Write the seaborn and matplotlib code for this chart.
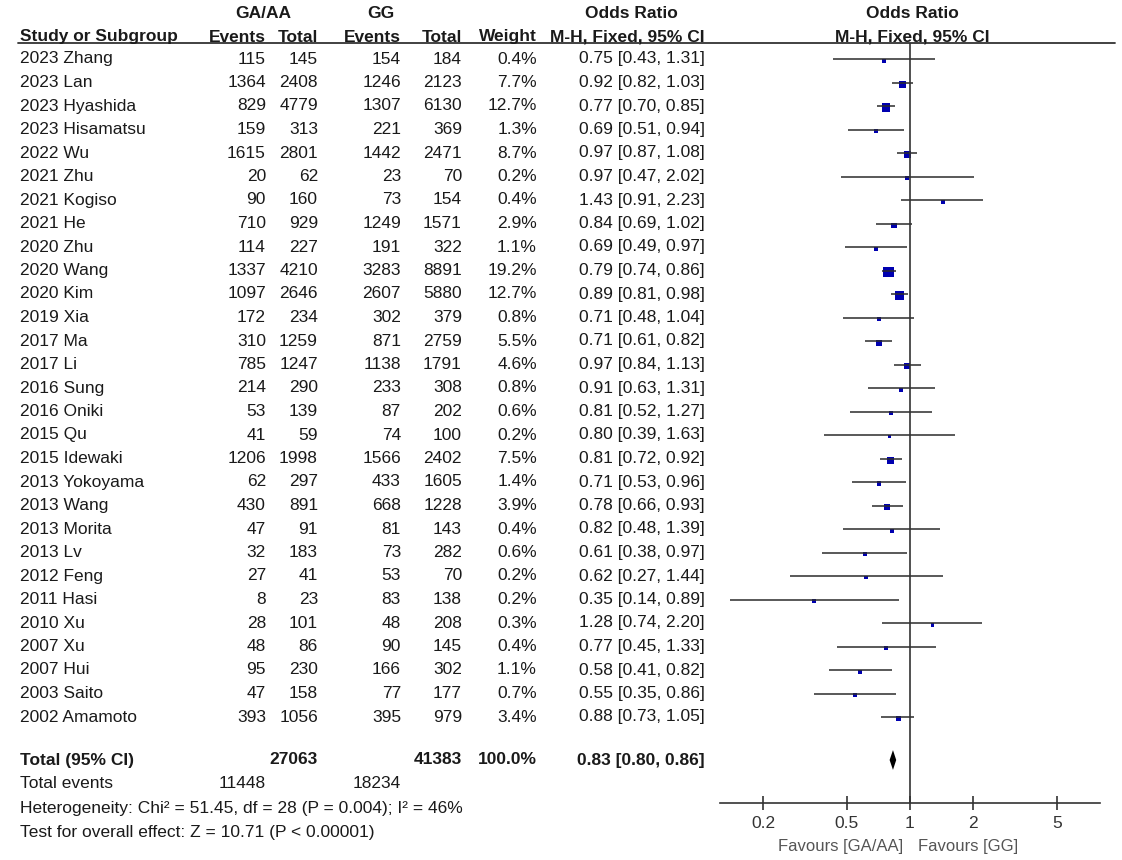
import numpy as np
import pandas as pd
import matplotlib
matplotlib.use("Agg")
import matplotlib.pyplot as plt
import seaborn as sns

# study data
studies = ["2023 Zhang", "2023 Lan", "2023 Hyashida", "2023 Hisamatsu", "2022 Wu",
           "2021 Zhu", "2021 Kogiso", "2021 He", "2020 Zhu", "2020 Wang", "2020 Kim",
           "2019 Xia", "2017 Ma", "2017 Li", "2016 Sung", "2016 Oniki", "2015 Qu",
           "2015 Idewaki", "2013 Yokoyama", "2013 Wang", "2013 Morita", "2013 Lv",
           "2012 Feng", "2011 Hasi", "2010 Xu", "2007 Xu", "2007 Hui", "2003 Saito",
           "2002 Amamoto"]
ga_events = [115, 1364, 829, 159, 1615, 20, 90, 710, 114, 1337, 1097, 172, 310, 785,
             214, 53, 41, 1206, 62, 430, 47, 32, 27, 8, 28, 48, 95, 47, 393]
ga_total = [145, 2408, 4779, 313, 2801, 62, 160, 929, 227, 4210, 2646, 234, 1259, 1247,
            290, 139, 59, 1998, 297, 891, 91, 183, 41, 23, 101, 86, 230, 158, 1056]
gg_events = [154, 1246, 1307, 221, 1442, 23, 73, 1249, 191, 3283, 2607, 302, 871, 1138,
             233, 87, 74, 1566, 433, 668, 81, 73, 53, 83, 48, 90, 166, 77, 395]
gg_total = [184, 2123, 6130, 369, 2471, 70, 154, 1571, 322, 8891, 5880, 379, 2759, 1791,
            308, 202, 100, 2402, 1605, 1228, 143, 282, 70, 138, 208, 145, 302, 177, 979]
weight = [0.4, 7.7, 12.7, 1.3, 8.7, 0.2, 0.4, 2.9, 1.1, 19.2, 12.7, 0.8, 5.5, 4.6,
          0.8, 0.6, 0.2, 7.5, 1.4, 3.9, 0.4, 0.6, 0.2, 0.2, 0.3, 0.4, 1.1, 0.7, 3.4]
odds = [0.75, 0.92, 0.77, 0.69, 0.97, 0.97, 1.43, 0.84, 0.69, 0.79, 0.89, 0.71, 0.71,
        0.97, 0.91, 0.81, 0.80, 0.81, 0.71, 0.78, 0.82, 0.61, 0.62, 0.35, 1.28, 0.77,
        0.58, 0.55, 0.88]
ci_lo = [0.43, 0.82, 0.70, 0.51, 0.87, 0.47, 0.91, 0.69, 0.49, 0.74, 0.81, 0.48, 0.61,
         0.84, 0.63, 0.52, 0.39, 0.72, 0.53, 0.66, 0.48, 0.38, 0.27, 0.14, 0.74, 0.45,
         0.41, 0.35, 0.73]
ci_hi = [1.31, 1.03, 0.85, 0.94, 1.08, 2.02, 2.23, 1.02, 0.97, 0.86, 0.98, 1.04, 0.82,
         1.13, 1.31, 1.27, 1.63, 0.92, 0.96, 0.93, 1.39, 0.97, 1.44, 0.89, 2.20, 1.33,
         0.82, 0.86, 1.05]

total_ga = 27063
total_gg = 41383
total_weight = 100.0
total_ev_ga = 11448
total_ev_gg = 18234
total_or, total_lo, total_hi = 0.83, 0.80, 0.86
het_text = "Heterogeneity: Chi² = 51.45, df = 28 (P = 0.004); I² = 46%"
test_text = "Test for overall effect: Z = 10.71 (P < 0.00001)"
xticks = [0.2, 0.5, 1, 2, 5]

sns.set_style("white")
plt.rcParams['font.family'] = ['Liberation Sans', 'DejaVu Sans']

W, H = 1122, 860
row0, step = 59, 23.5   # pixel y of first row, row spacing


def prow(p):
    # pixel y -> row units
    return (p - row0) / step


fig = plt.figure(figsize=(W / 100, H / 100), dpi=100)
ax_t = fig.add_axes([0, 0, 1, 1])
ax_t.set_xlim(0, W)
ax_t.set_ylim(prow(H), prow(0))
ax_t.axis('off')

txt = '#1a1a1a'
fs = 12.5
n = len(studies)
rows = np.arange(n)

# headers
hdr = dict(fontsize=fs, fontweight='bold', color=txt, va='center')
ax_t.text(263, prow(13), "GA/AA", ha='center', **hdr)
ax_t.text(381, prow(13), "GG", ha='center', **hdr)
ax_t.text(631, prow(13), "Odds Ratio", ha='center', **hdr)
ax_t.text(912, prow(13), "Odds Ratio", ha='center', **hdr)
yh = prow(37)
ax_t.text(20, yh, "Study or Subgroup", ha='left', **hdr)
col_x = [266, 318, 401, 462, 537, 705]
for x, lab in zip(col_x, ["Events", "Total", "Events", "Total", "Weight", "M-H, Fixed, 95% CI"]):
    ax_t.text(x, yh, lab, ha='right', **hdr)
ax_t.text(912, yh, "M-H, Fixed, 95% CI", ha='center', **hdr)
ax_t.plot([18, 1115], [prow(43), prow(43)], color='#333333', lw=1.3)

# study rows
for i in range(n):
    ax_t.text(20, i, studies[i], ha='left', va='center', fontsize=fs, color=txt)
    vals = [str(ga_events[i]), str(ga_total[i]), str(gg_events[i]), str(gg_total[i]),
            f"{weight[i]:.1f}%", f"{odds[i]:.2f} [{ci_lo[i]:.2f}, {ci_hi[i]:.2f}]"]
    for x, v in zip(col_x, vals):
        ax_t.text(x, i, v, ha='right', va='center', fontsize=fs, color=txt)

# totals
yt = prow(760)
ax_t.text(20, yt, "Total (95% CI)", ha='left', **hdr)
ax_t.text(318, yt, str(total_ga), ha='right', **hdr)
ax_t.text(462, yt, str(total_gg), ha='right', **hdr)
ax_t.text(537, yt, f"{total_weight:.1f}%", ha='right', **hdr)
ax_t.text(705, yt, f"{total_or:.2f} [{total_lo:.2f}, {total_hi:.2f}]", ha='right', **hdr)
ye = prow(784)
ax_t.text(20, ye, "Total events", ha='left', va='center', fontsize=fs, color=txt)
ax_t.text(266, ye, str(total_ev_ga), ha='right', va='center', fontsize=fs, color=txt)
ax_t.text(401, ye, str(total_ev_gg), ha='right', va='center', fontsize=fs, color=txt)
ax_t.text(20, prow(808), het_text, ha='left', va='center', fontsize=fs, color=txt)
ax_t.text(20, prow(832), test_text, ha='left', va='center', fontsize=fs, color=txt)

# forest panel
ax_f = fig.add_axes([720 / W, (H - 803) / H, 380 / W, (803 - 43) / H])
ax_f.set_xscale('log')
ax_f.set_xlim(0.125, 8)
ax_f.set_ylim(prow(803), prow(43))
ax_f.patch.set_alpha(0)

ax_f.hlines(rows, ci_lo, ci_hi, color='#2b2b2b', lw=1.1)
df = pd.DataFrame({'or': odds, 'row': rows + 0.07, 'weight': weight})
sns.scatterplot(data=df, x='or', y='row', size='weight', sizes=(7, 55),
                marker='s', color='#0000b0', linewidth=0, legend=False, ax=ax_f)
ax_f.axvline(1, color='#333333', lw=1.2)

# pooled diamond
dh = 0.42
ax_f.fill([total_lo, total_or, total_hi, total_or],
          [yt, yt - dh, yt, yt + dh], color='black', lw=0)

for s in ['top', 'right', 'left']:
    ax_f.spines[s].set_visible(False)
ax_f.spines['bottom'].set_color('#333333')
ax_f.spines['bottom'].set_linewidth(1.2)
ax_f.set_xticks(xticks)
ax_f.set_xticklabels([f"{t:g}" for t in xticks])
ax_f.minorticks_off()
ax_f.set_yticks([])
ax_f.tick_params(axis='x', direction='inout', length=10, width=1.2, color='#333333',
                 labelsize=12.5, labelcolor='#333333', pad=4, bottom=True)
ax_f.set_xlabel('')
ax_f.set_ylabel('')

# favours labels
yf = prow(846)
ax_t.text(903, yf, "Favours [GA/AA]", ha='right', va='center', fontsize=12, color='#555555')
ax_t.text(918, yf, "Favours [GG]", ha='left', va='center', fontsize=12, color='#555555')

fig.savefig("out.png", dpi=100)
